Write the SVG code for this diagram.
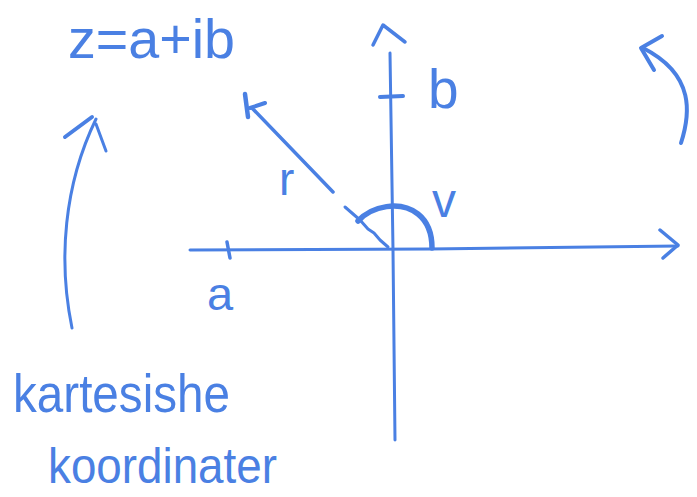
<svg xmlns="http://www.w3.org/2000/svg" width="697" height="497" viewBox="0 0 697 497">
<style>
.ink{fill:none;stroke:#4a80e3;stroke-linecap:round;stroke-linejoin:round}
.t{fill:#4a80e3;font-family:"Liberation Sans","DejaVu Sans",sans-serif}
</style>
<rect width="697" height="497" fill="#ffffff"/>
<g id="connectors">
<!-- horizontal axis -->
<path class="ink" stroke-width="3" d="M190,250 L430,249 L678,246"/>
<path class="ink" stroke-width="3.5" d="M660,230 L678,245 L663,258"/>
<!-- vertical axis -->
<path class="ink" stroke-width="3" d="M390,53 L393,250 L395,440"/>
<path class="ink" stroke-width="3.5" d="M373,45 L383,25 L405,42"/>
<!-- ticks -->
<path class="ink" stroke-width="3.5" d="M227,242 L230,258"/>
<path class="ink" stroke-width="4" d="M380,97 L403,96"/>
<!-- ray r -->
<path class="ink" stroke-width="3.5" d="M252,108 L333,192"/>
<path class="ink" stroke-width="3" d="M345,207 L360,220 L368,229 L374,233 L380,240 L388,247"/>
<path class="ink" stroke-width="4.5" d="M245,94 L248,117"/>
<path class="ink" stroke-width="4" d="M250,108 L265,103"/>
<!-- angle arc -->
<path class="ink" stroke-width="5.5" d="M358,221 C372,206 400,200 418,214 C428,222 432,234 432,248"/>
<!-- top right rotation arrow -->
<path class="ink" stroke-width="4" d="M681,143 C690,115 696,75 643,48"/>
<path class="ink" stroke-width="4" d="M662,36 L641,48 L654,70"/>
<!-- left arrow -->
<path class="ink" stroke-width="3" d="M72,328 C58,260 64,185 96,119"/>
<path class="ink" stroke-width="4" d="M65,137 L92,117"/>
<path class="ink" stroke-width="3" d="M96,124 L106,151"/>
</g>
<g id="formula"><text class="t" x="68" y="58" font-size="56" textLength="167" lengthAdjust="spacingAndGlyphs">z=a+ib</text></g>
<g id="label-a"><text class="t" x="207" y="310" font-size="47">a</text></g>
<g id="label-b"><text class="t" x="428" y="108" font-size="55">b</text></g>
<g id="label-r"><text class="t" x="279" y="195" font-size="46">r</text></g>
<g id="label-v"><text class="t" x="432" y="217" font-size="48">v</text></g>
<g id="caption">
<text class="t" x="13" y="412" font-size="54" textLength="217" lengthAdjust="spacingAndGlyphs">kartesishe</text>
<text class="t" x="48" y="483" font-size="50" textLength="229" lengthAdjust="spacingAndGlyphs">koordinater</text>
</g>
</svg>
